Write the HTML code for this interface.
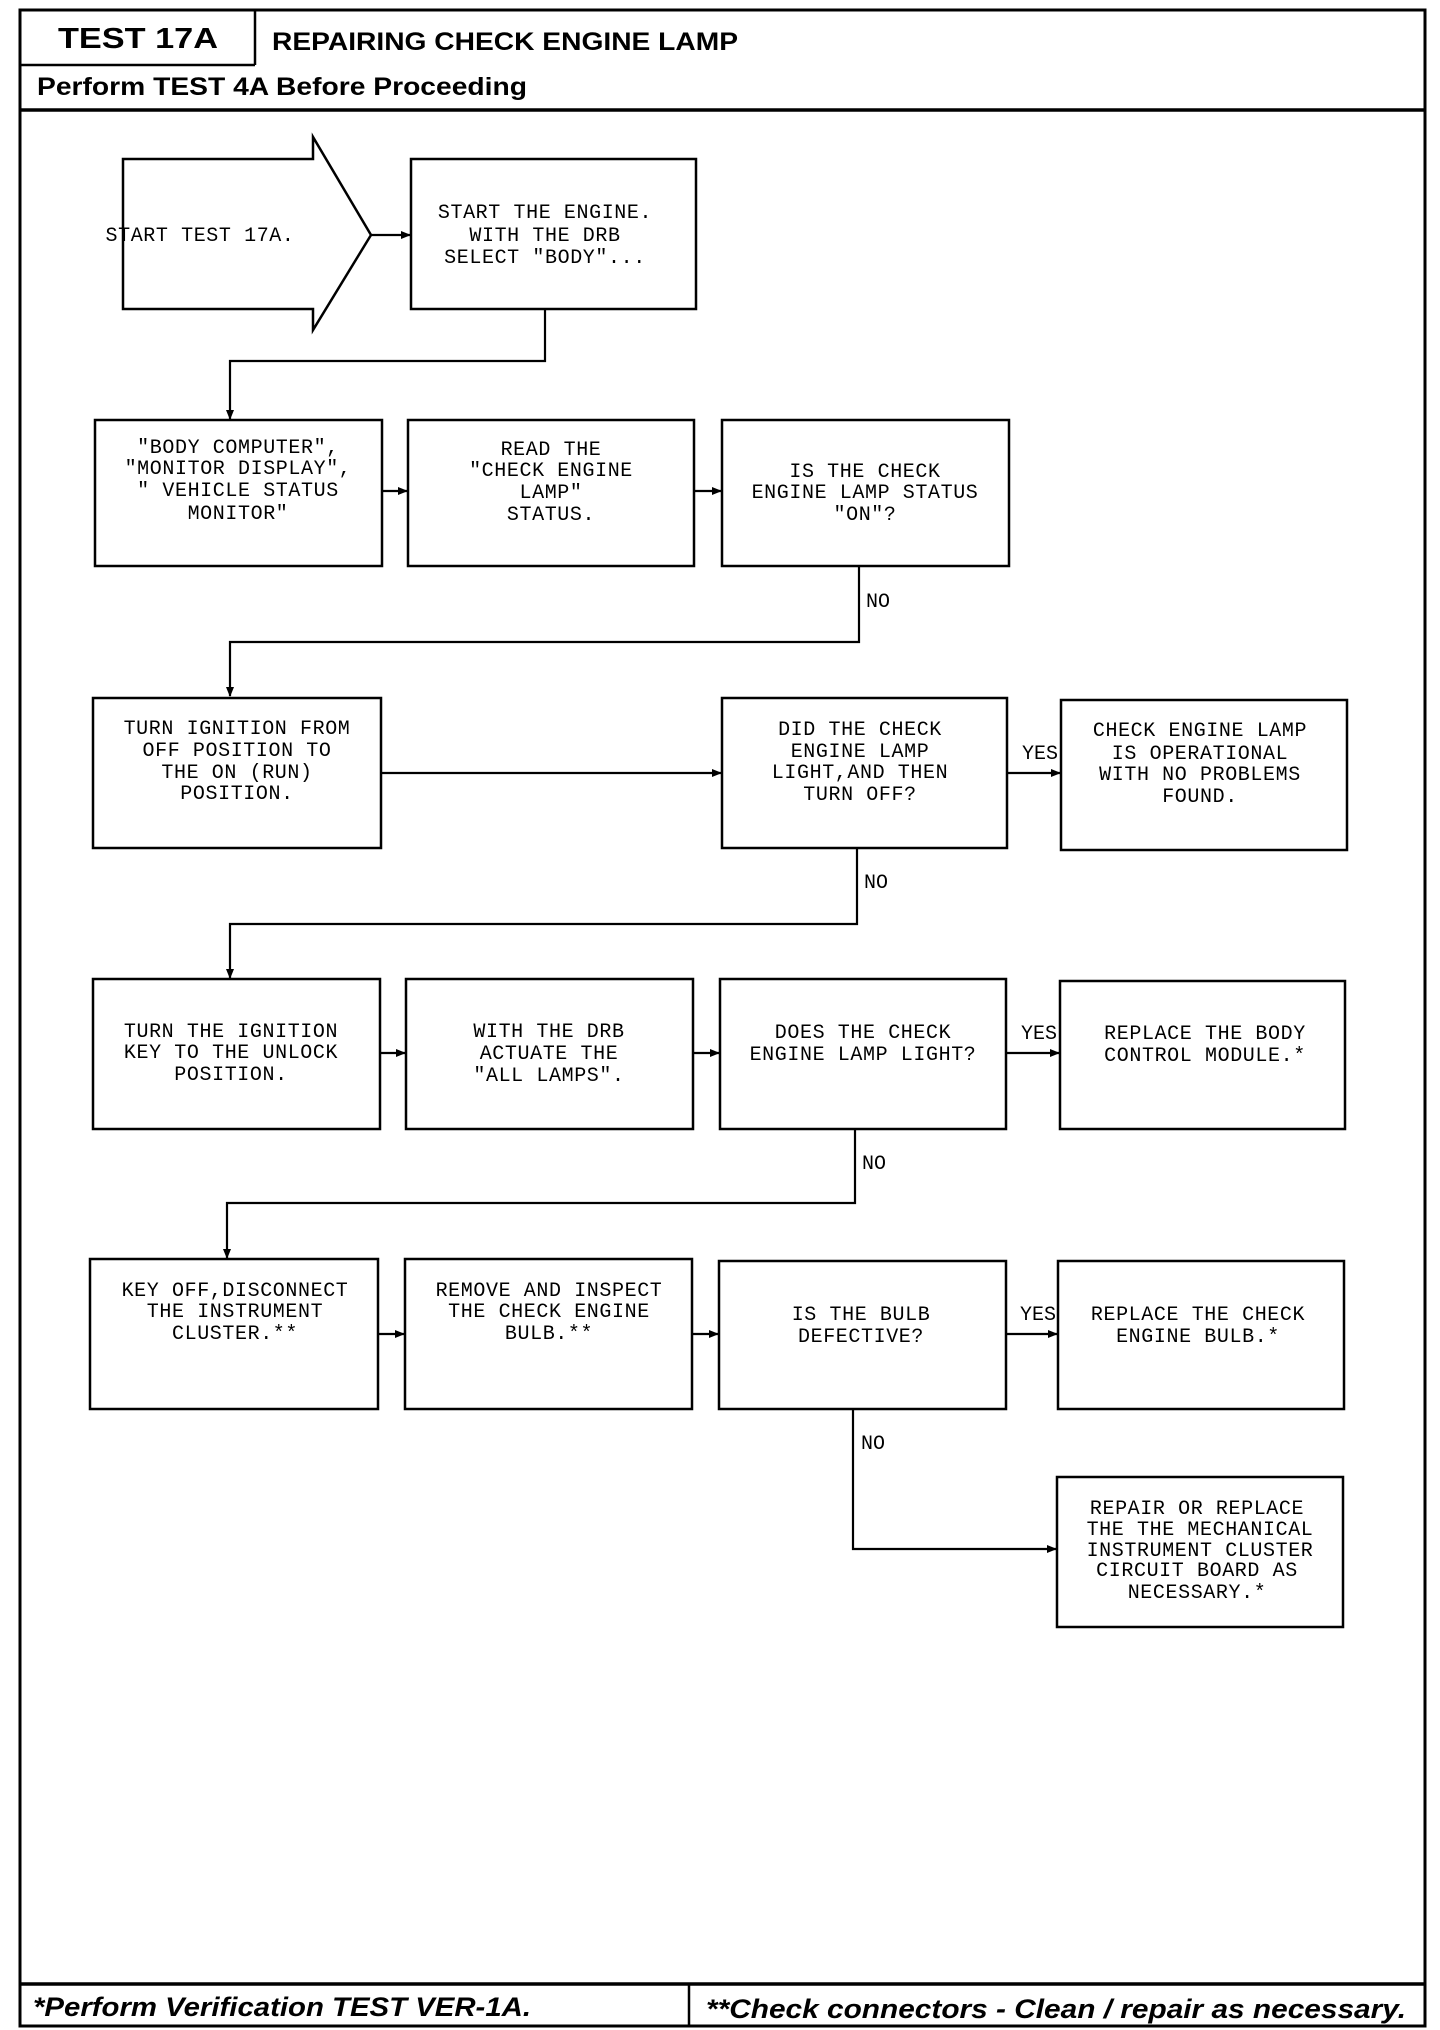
<!DOCTYPE html>
<html><head><meta charset="utf-8"><style>
html,body{margin:0;padding:0;background:#fff;}
svg{display:block;}
.t{font-family:"Liberation Mono",monospace;font-size:20px;fill:#000;text-anchor:middle;letter-spacing:0.6px;}
.l{font-family:"Liberation Mono",monospace;font-size:20px;fill:#000;}
.b{fill:#fff;stroke:#000;stroke-width:2.5;}
.c{fill:none;stroke:#000;stroke-width:2.2;}
</style></head><body>
<svg width="1440" height="2030" viewBox="0 0 1440 2030" xmlns="http://www.w3.org/2000/svg">
<defs><marker id="a" markerWidth="10" markerHeight="10" refX="9" refY="5" orient="auto" markerUnits="userSpaceOnUse"><path d="M0,1 L10,5 L0,9 z" fill="#000"/></marker></defs>
<!-- frame -->
<rect x="20" y="10" width="1405" height="2016" fill="none" stroke="#000" stroke-width="3"/>
<line x1="255" y1="10" x2="255" y2="65" stroke="#000" stroke-width="2.5"/>
<line x1="20" y1="65" x2="255" y2="65" stroke="#000" stroke-width="2.5"/>
<line x1="20" y1="110" x2="1425" y2="110" stroke="#000" stroke-width="3.5"/>
<text x="138" y="48" text-anchor="middle" style="font-family:'Liberation Sans',sans-serif;font-weight:bold;font-size:29px" textLength="160" lengthAdjust="spacingAndGlyphs">TEST 17A</text>
<text x="272" y="50" style="font-family:'Liberation Sans',sans-serif;font-weight:bold;font-size:25px" textLength="466" lengthAdjust="spacingAndGlyphs">REPAIRING CHECK ENGINE LAMP</text>
<text x="37" y="95" style="font-family:'Liberation Sans',sans-serif;font-weight:bold;font-size:25px" textLength="490" lengthAdjust="spacingAndGlyphs">Perform TEST 4A Before Proceeding</text>
<!-- footer -->
<line x1="20" y1="1984" x2="1425" y2="1984" stroke="#000" stroke-width="3.5"/>
<line x1="689" y1="1984" x2="689" y2="2026" stroke="#000" stroke-width="2.5"/>
<text x="33" y="2016" style="font-family:'Liberation Sans',sans-serif;font-weight:bold;font-style:italic;font-size:27px" textLength="498" lengthAdjust="spacingAndGlyphs">*Perform Verification TEST VER-1A.</text>
<text x="706" y="2018" style="font-family:'Liberation Sans',sans-serif;font-weight:bold;font-style:italic;font-size:27px" textLength="700" lengthAdjust="spacingAndGlyphs">**Check connectors - Clean / repair as necessary.</text>

<!-- start arrow -->
<path class="b" d="M123,159 L313,159 L313,137 L371,235 L313,330 L313,309 L123,309 Z"/>
<text class="t" x="200" y="241">START TEST 17A.</text>
<line class="c" x1="371" y1="235" x2="410" y2="235" marker-end="url(#a)"/>
<rect class="b" x="411" y="159" width="285" height="150"/>
<text class="t" x="545" y="218">START THE ENGINE.</text>
<text class="t" x="545" y="241">WITH THE DRB</text>
<text class="t" x="545" y="263">SELECT "BODY"...</text>
<polyline class="c" points="545,309 545,361 230,361 230,419" marker-end="url(#a)"/>

<!-- row 2 -->
<rect class="b" x="95" y="420" width="287" height="146"/>
<text class="t" x="238" y="453">"BODY COMPUTER",</text>
<text class="t" x="238" y="474">"MONITOR DISPLAY",</text>
<text class="t" x="238" y="496">" VEHICLE STATUS</text>
<text class="t" x="238" y="519">MONITOR"</text>
<line class="c" x1="382" y1="491" x2="407" y2="491" marker-end="url(#a)"/>
<rect class="b" x="408" y="420" width="286" height="146"/>
<text class="t" x="551" y="455">READ THE</text>
<text class="t" x="551" y="476">"CHECK ENGINE</text>
<text class="t" x="551" y="498">LAMP"</text>
<text class="t" x="551" y="520">STATUS.</text>
<line class="c" x1="694" y1="491" x2="721" y2="491" marker-end="url(#a)"/>
<rect class="b" x="722" y="420" width="287" height="146"/>
<text class="t" x="865" y="477">IS THE CHECK</text>
<text class="t" x="865" y="498">ENGINE LAMP STATUS</text>
<text class="t" x="865" y="520">"ON"?</text>
<polyline class="c" points="859,566 859,642 230,642 230,696" marker-end="url(#a)"/>
<text class="l" x="866" y="607">NO</text>

<!-- row 3 -->
<rect class="b" x="93" y="698" width="288" height="150"/>
<text class="t" x="237" y="734">TURN IGNITION FROM</text>
<text class="t" x="237" y="756">OFF POSITION TO</text>
<text class="t" x="237" y="778">THE ON (RUN)</text>
<text class="t" x="237" y="799">POSITION.</text>
<line class="c" x1="381" y1="773" x2="721" y2="773" marker-end="url(#a)"/>
<rect class="b" x="722" y="698" width="285" height="150"/>
<text class="t" x="860" y="735">DID THE CHECK</text>
<text class="t" x="860" y="757">ENGINE LAMP</text>
<text class="t" x="860" y="778">LIGHT,AND THEN</text>
<text class="t" x="860" y="800">TURN OFF?</text>
<line class="c" x1="1007" y1="773" x2="1060" y2="773" marker-end="url(#a)"/>
<text class="l" x="1022" y="759">YES</text>
<rect class="b" x="1061" y="700" width="286" height="150"/>
<text class="t" x="1200" y="736">CHECK ENGINE LAMP</text>
<text class="t" x="1200" y="759">IS OPERATIONAL</text>
<text class="t" x="1200" y="780">WITH NO PROBLEMS</text>
<text class="t" x="1200" y="802">FOUND.</text>
<polyline class="c" points="857,848 857,924 230,924 230,978" marker-end="url(#a)"/>
<text class="l" x="864" y="888">NO</text>

<!-- row 4 -->
<rect class="b" x="93" y="979" width="287" height="150"/>
<text class="t" x="231" y="1037">TURN THE IGNITION</text>
<text class="t" x="231" y="1058">KEY TO THE UNLOCK</text>
<text class="t" x="231" y="1080">POSITION.</text>
<line class="c" x1="380" y1="1053" x2="405" y2="1053" marker-end="url(#a)"/>
<rect class="b" x="406" y="979" width="287" height="150"/>
<text class="t" x="549" y="1037">WITH THE DRB</text>
<text class="t" x="549" y="1059">ACTUATE THE</text>
<text class="t" x="549" y="1081">"ALL LAMPS".</text>
<line class="c" x1="693" y1="1053" x2="719" y2="1053" marker-end="url(#a)"/>
<rect class="b" x="720" y="979" width="286" height="150"/>
<text class="t" x="863" y="1038">DOES THE CHECK</text>
<text class="t" x="863" y="1060">ENGINE LAMP LIGHT?</text>
<line class="c" x1="1006" y1="1053" x2="1059" y2="1053" marker-end="url(#a)"/>
<text class="l" x="1021" y="1039">YES</text>
<rect class="b" x="1060" y="981" width="285" height="148"/>
<text class="t" x="1205" y="1039">REPLACE THE BODY</text>
<text class="t" x="1205" y="1061">CONTROL MODULE.*</text>
<polyline class="c" points="855,1129 855,1203 227,1203 227,1258" marker-end="url(#a)"/>
<text class="l" x="862" y="1169">NO</text>

<!-- row 5 -->
<rect class="b" x="90" y="1259" width="288" height="150"/>
<text class="t" x="235" y="1296">KEY OFF,DISCONNECT</text>
<text class="t" x="235" y="1317">THE INSTRUMENT</text>
<text class="t" x="235" y="1339">CLUSTER.**</text>
<line class="c" x1="378" y1="1334" x2="404" y2="1334" marker-end="url(#a)"/>
<rect class="b" x="405" y="1259" width="287" height="150"/>
<text class="t" x="549" y="1296">REMOVE AND INSPECT</text>
<text class="t" x="549" y="1317">THE CHECK ENGINE</text>
<text class="t" x="549" y="1339">BULB.**</text>
<line class="c" x1="692" y1="1334" x2="718" y2="1334" marker-end="url(#a)"/>
<rect class="b" x="719" y="1261" width="287" height="148"/>
<text class="t" x="861" y="1320">IS THE BULB</text>
<text class="t" x="861" y="1342">DEFECTIVE?</text>
<line class="c" x1="1006" y1="1334" x2="1057" y2="1334" marker-end="url(#a)"/>
<text class="l" x="1020" y="1320">YES</text>
<rect class="b" x="1058" y="1261" width="286" height="148"/>
<text class="t" x="1198" y="1320">REPLACE THE CHECK</text>
<text class="t" x="1198" y="1342">ENGINE BULB.*</text>
<polyline class="c" points="853,1409 853,1549 1056,1549" marker-end="url(#a)"/>
<text class="l" x="861" y="1449">NO</text>
<rect class="b" x="1057" y="1477" width="286" height="150"/>
<text class="t" x="1197" y="1514">REPAIR OR REPLACE</text>
<text class="t" x="1200" y="1535">THE THE MECHANICAL</text>
<text class="t" x="1200" y="1556">INSTRUMENT CLUSTER</text>
<text class="t" x="1197" y="1576">CIRCUIT BOARD AS</text>
<text class="t" x="1197" y="1598">NECESSARY.*</text>
</svg>
</body></html>
